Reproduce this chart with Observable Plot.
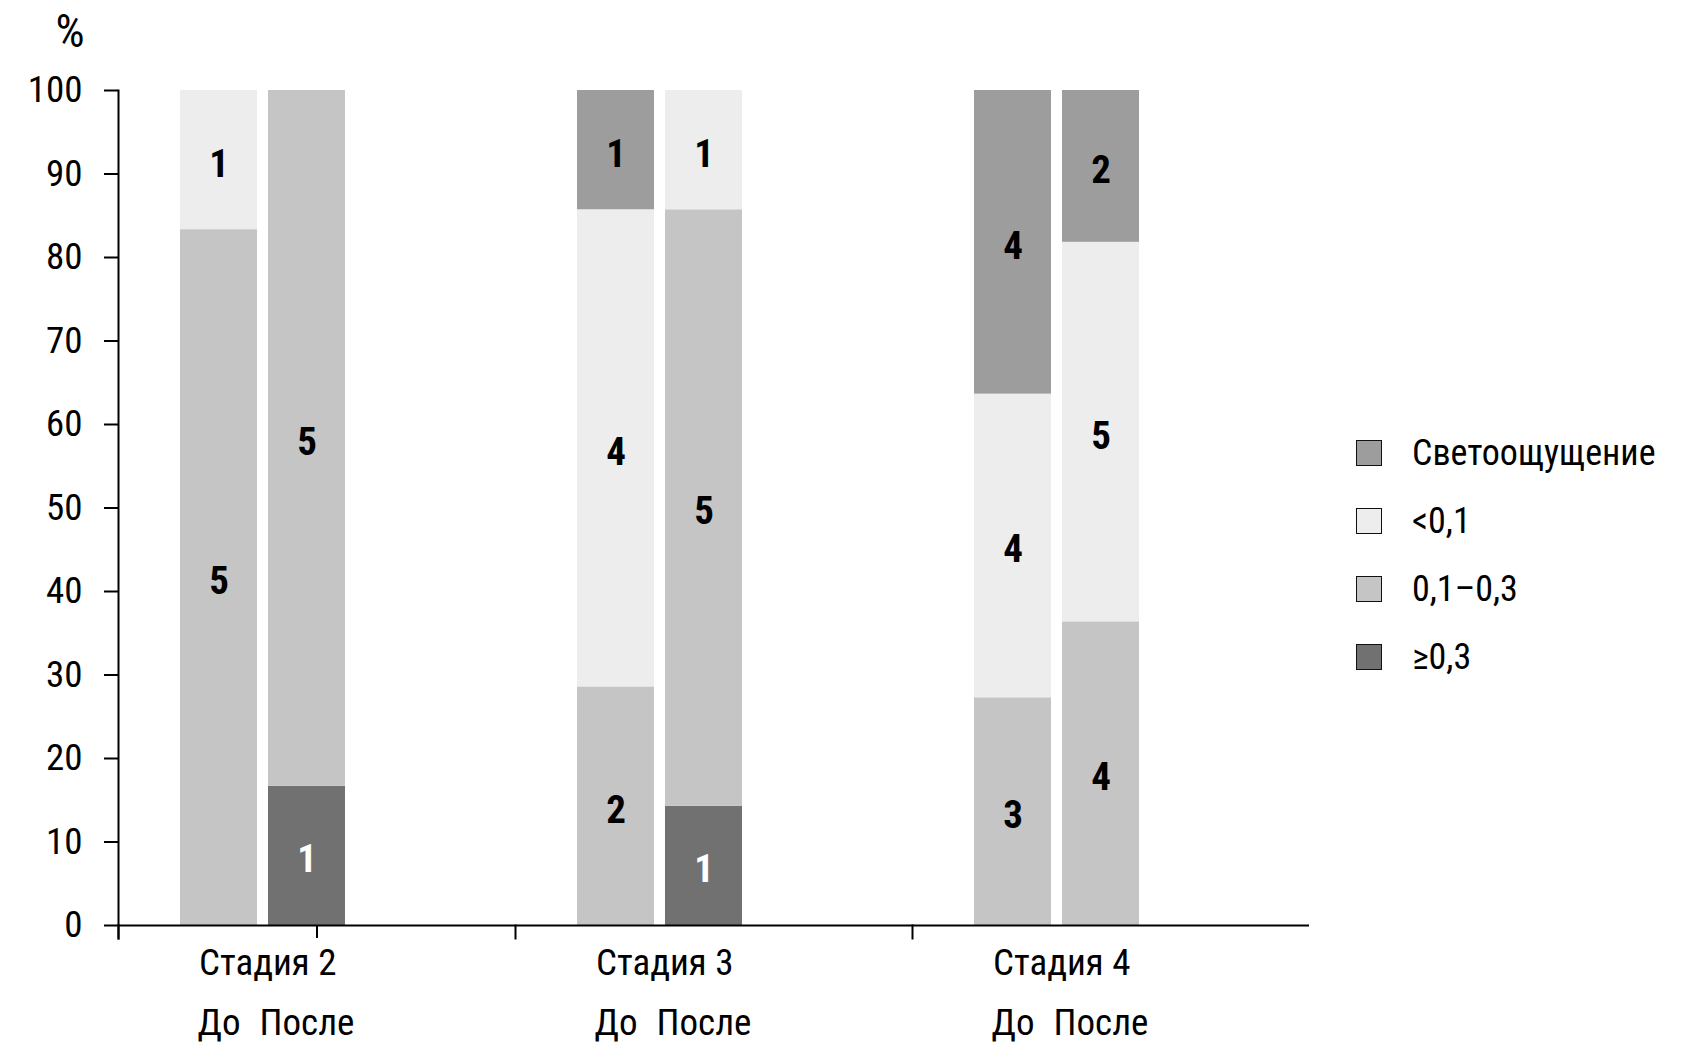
<!DOCTYPE html>
<html>
<head>
<meta charset="utf-8">
<script src="https://cdn.jsdelivr.net/npm/d3@7"></script>
<script src="https://cdn.jsdelivr.net/npm/@observablehq/plot@0.6"></script>
<style>
  html, body { margin: 0; padding: 0; background: #fff; }
  #wrap { position: relative; width: 1691px; height: 1057px; font-family: "Roboto Condensed", "DejaVu Sans Condensed", sans-serif; }
  #legend { position: absolute; left: 1356px; top: 419px; }
  .item { display: flex; align-items: center; height: 68px; font-size: 36px; color: #000; }
  .sw { width: 24px; height: 24px; border: 1.5px solid #111; margin-right: 30px; box-sizing: content-box; }
</style>
</head>
<body>
<div id="wrap"><div id="legend"></div></div>
<script>
// ---- data ----
const stages = ["Стадия 2", "Стадия 3", "Стадия 4"];
const periods = ["До", "После"];
// stack order bottom → top
const levels = ["≥0,3", "0,1–0,3", "<0,1", "Светоощущение"];
const levelColors = ["#717171", "#c5c5c5", "#ededed", "#9d9d9d"];
// counts per bar: [С2 До, С2 После, С3 До, С3 После, С4 До, С4 После]
const countsGe03  = [0, 1, 0, 1, 0, 0];
const counts01_03 = [5, 5, 2, 5, 3, 4];
const countsLt01  = [1, 0, 4, 1, 4, 5];
const countsLight = [0, 0, 1, 0, 4, 2];
const yTicks = [0, 10, 20, 30, 40, 50, 60, 70, 80, 90, 100];
const gridTicks = [10, 20, 30, 40, 50, 60, 70, 80, 90, 100];
const yUnit = "%";

const series = [countsGe03, counts01_03, countsLt01, countsLight];
const table = [];
for (let i = 0; i < stages.length * periods.length; i++) {
  const stage = stages[Math.floor(i / periods.length)];
  const period = periods[i % periods.length];
  levels.forEach((level, j) => {
    const count = series[j][i];
    if (count > 0) table.push({stage, period, level, count});
  });
}

const font = '"Roboto Condensed", "DejaVu Sans Condensed", sans-serif';
const innerH = 1057 - 90 - 132;

const stackOpts = {fx: "stage", x: "period", y: "count", z: "level", offset: "normalize"};

const chart = Plot.plot({
  width: 1691,
  height: 1057,
  marginLeft: 118,
  marginRight: 382,
  marginTop: 90,
  marginBottom: 132,
  style: {fontFamily: font, fontSize: "37px", background: "white", color: "#000"},
  fx: {domain: stages, padding: 0},
  x: {domain: periods, paddingInner: 0.1236, paddingOuter: 1.294, align: 0.269},
  y: {domain: [0, 100], percent: true},
  color: {domain: levels, range: levelColors},
  marks: [
    Plot.gridY(gridTicks, {stroke: "#dcdcdc", strokeOpacity: 1, strokeWidth: 2, strokeDasharray: "17 17"}),
    Plot.barY(table, Plot.stackY({...stackOpts, fill: "level", inset: 0})),
    Plot.text(table, Plot.filter(d => d.level !== levels[0], Plot.stackY({...stackOpts, text: "count", fill: "#000", fontWeight: "bold", fontSize: 39, dy: 4}))),
    Plot.text(table, Plot.filter(d => d.level === levels[0], Plot.stackY({...stackOpts, text: "count", fill: "#fff", fontWeight: "bold", fontSize: 39, dy: 4}))),
    Plot.ruleY([0], {stroke: "#000", strokeWidth: 2}),
    Plot.frame({anchor: "left", facetAnchor: "left", insetBottom: -13, stroke: "#000", strokeWidth: 2}),
    Plot.frame({anchor: "left", insetTop: innerH, insetBottom: -13, stroke: "#000", strokeWidth: 2}),
    Plot.axisY({ticks: yTicks, tickSize: 14, tickPadding: 22, fontSize: 37, strokeWidth: 2, label: null}),
    Plot.text([yUnit], {text: d => d, frameAnchor: "top-left", facetAnchor: "left", textAnchor: "start",
      lineAnchor: "top", dx: -63, dy: -76, fontSize: 46, fill: "#000"}),
    Plot.axisFx({anchor: "bottom", ticks: [stages[0]], tickSize: 13, strokeWidth: 2, tickFormat: () => "", label: null}),
    Plot.axisX({anchor: "bottom", tickSize: 0, tickPadding: 83, fontSize: 37, label: null}),
    Plot.text(stages, {fx: d => d, x: () => periods[0], text: d => d, frameAnchor: "bottom",
      textAnchor: "start", lineAnchor: "top", dx: -20, dy: 23, fontSize: 37, fill: "#000"})
  ]
});
document.getElementById("wrap").prepend(chart);

// legend (top → bottom: reversed stack order)
const legend = document.getElementById("legend");
levels.slice().reverse().forEach(level => {
  const c = levelColors[levels.indexOf(level)];
  const row = document.createElement("div");
  row.className = "item";
  const sw = document.createElement("div");
  sw.className = "sw";
  sw.style.background = c;
  const t = document.createElement("span");
  t.textContent = level;
  row.append(sw, t);
  legend.append(row);
});
</script>
</body>
</html>
